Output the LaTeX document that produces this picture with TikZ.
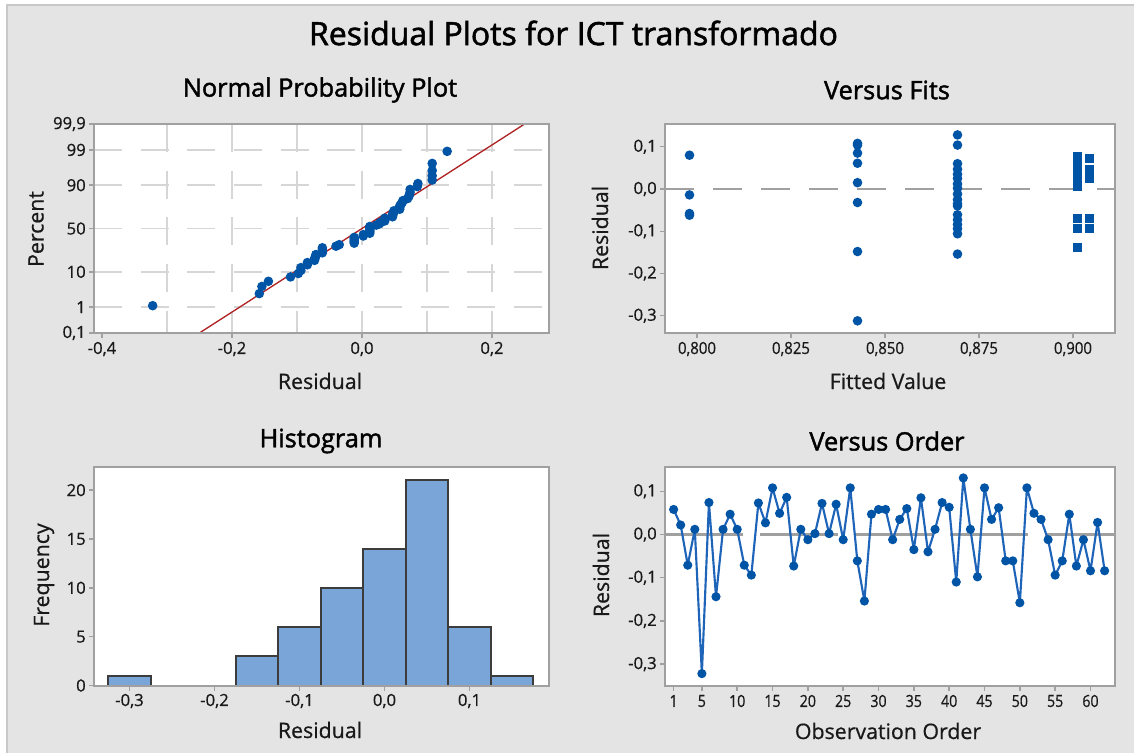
\documentclass[tikz,border=0pt]{standalone}
\usepackage{fontspec}
\setmainfont{Open Sans}[FakeBold=0.7]
\newfontfamily\headfont{Open Sans}[FakeBold=1.7]
\definecolor{bg}{RGB}{228,228,228}
\definecolor{bgedge}{RGB}{200,200,200}
\definecolor{frame}{RGB}{160,160,160}
\definecolor{gridc}{RGB}{214,214,214}
\definecolor{ptblue}{RGB}{0,84,166}
\definecolor{lineblue}{RGB}{30,100,185}
\definecolor{fitred}{RGB}{175,35,35}
\definecolor{barfill}{RGB}{122,165,216}
\definecolor{baredge}{RGB}{60,60,60}
\definecolor{txt}{RGB}{25,25,25}
\definecolor{refgray}{RGB}{160,160,160}
\tikzset{
  plotbox/.style={fill=white},
  plotframe/.style={draw=frame, line width=1.5pt},
  tickmark/.style={draw=frame, line width=1.1pt},
  ticklab/.style={font=\fontsize{12.5}{14}\selectfont, text=txt, inner sep=0pt},
  axlab/.style={font=\fontsize{16}{19}\selectfont, text=txt, inner sep=0pt},
  paneltitle/.style={font=\headfont\fontsize{19}{22}\selectfont, text=black, inner sep=0pt},
  maintitle/.style={font=\headfont\fontsize{24}{28}\selectfont, text=black, inner sep=0pt},
  gridline/.style={draw=gridc, line width=1.1pt, dash pattern=on 21pt off 14pt},
  zerodash/.style={draw=refgray, line width=1.6pt, dash pattern=on 21.75pt off 14.25pt},
  zerolong/.style={draw=refgray, line width=1.6pt, dash pattern=on 58.5pt off 12.75pt},
  fitline/.style={draw=fitred, line width=1pt},
  bar/.style={fill=barfill, draw=baredge, line width=1.5pt},
  orderline/.style={draw=lineblue, line width=1.6pt, line join=round},
  dot/.style={fill=ptblue},
}
\begin{document}
\begin{tikzpicture}[x=0.75pt, y=-0.75pt]
\useasboundingbox (0,0) rectangle (1134,753);
% page background
\fill[white] (0,0) rectangle (1134,753);
\fill[bg] (7,5) rectangle (1134,753);
\draw[bgedge, line width=1pt] (7,753) -- (7,5) -- (1134,5);

\node[maintitle] (title) at (573.5,33) {Residual Plots for ICT transformado};

% ---------------- Normal probability plot ----------------
\fill[plotbox] (94,124) rectangle (549,333);
\foreach \r in {-0.3,-0.2,-0.1,0,0.1,0.2}
  \draw[gridline] ({362+650*\r},124) -- ({362+650*\r},333);
\foreach \pz in {2.326,1.2816,0,-1.2816,-2.326}
  \draw[gridline] (94,{228.5-33.8*\pz}) -- (549,{228.5-33.8*\pz});
\coordinate (fitlo) at ({362+650*(-0.25)},{228.5+33.8*3.09});
\coordinate (fithi) at ({362+650*0.25},{228.5-33.8*3.09});
\draw[fitline] (fitlo) -- (fithi);
\foreach \r [count=\i] in {-0.322,-0.158,-0.154,-0.144,-0.110,-0.098,-0.094,-0.094,
  -0.084,-0.084,-0.073,-0.073,-0.071,-0.071,-0.061,-0.061,-0.061,-0.061,-0.040,-0.035,
  -0.012,-0.012,-0.012,-0.012,-0.012,0.002,0.002,0.012,0.012,0.012,0.012,0.012,0.012,
  0.022,0.027,0.028,0.035,0.035,0.035,0.047,0.047,0.047,0.049,0.049,0.058,0.058,0.058,
  0.060,0.062,0.063,0.070,0.072,0.073,0.074,0.074,0.085,0.086,0.108,0.108,0.108,0.108,0.131}{
  \pgfmathsetmacro\p{(\i-0.3)/62.4}
  \pgfmathsetmacro\z{4.91*(pow(\p,0.14)-pow(1-\p,0.14))}
  \fill[dot] ({362+650*\r},{228.5-33.8*\z}) circle (4.8);
}
\draw[plotframe] (94,124) rectangle (549,333);
\foreach \pz/\lab in {3.09/{99,9},2.326/99,1.2816/90,0/50,-1.2816/10,-2.326/1,-3.09/{0,1}}{
  \draw[tickmark] (89,{228.5-33.8*\pz}) -- (94,{228.5-33.8*\pz});
  \node[ticklab, anchor=east] at (86,{228.5-33.8*\pz}) {\lab};
}
\foreach \r/\lab in {-0.4/{-0,4},-0.2/{-0,2},0/{0,0},0.2/{0,2}}{
  \draw[tickmark] ({362+650*\r},333) -- ({362+650*\r},338);
  \node[ticklab] at ({362+650*\r},349) {\lab};
}
\node[paneltitle] (t1) at (320,90) {Normal Probability Plot};
\node[axlab] (x1) at (320,381) {Residual};
\node[axlab, rotate=90] (y1) at (36,229) {Percent};

% ---------------- Versus fits ----------------
\fill[plotbox] (665,124) rectangle (1115,333);
\draw[zerodash] (665,189) -- (1115,189);
\foreach \r in {0.080,-0.014,-0.058,-0.062}
  \fill[dot] (689.5,{189-422.5*\r}) circle (4.8);
\foreach \r in {0.108,0.104,0.085,0.061,0.015,-0.032,-0.148,-0.312}
  \fill[dot] (857.5,{189-422.5*\r}) circle (4.8);
\foreach \r in {0.128,0.104,0.060,0.047,0.035,0.025,0.012,0.002,-0.012,-0.025,-0.035,
  -0.040,-0.061,-0.073,-0.084,-0.094,-0.106,-0.154}
  \fill[dot] (957.5,{189-422.5*\r}) circle (4.8);
\foreach \r in {0.076,0.059,0.037,0.020,0.006,-0.069,-0.093,-0.139}
  \fill[dot] (1072.5,{184.5-422.5*\r}) rectangle (1081.5,{193.5-422.5*\r});
\foreach \r in {0.072,0.047,0.025,-0.069,-0.093}
  \fill[dot] (1085,{184.5-422.5*\r}) rectangle (1094,{193.5-422.5*\r});
\draw[plotframe] (665,124) rectangle (1115,333);
\foreach \r/\lab in {0.1/{0,1},0/{0,0},-0.1/{-0,1},-0.2/{-0,2},-0.3/{-0,3}}{
  \draw[tickmark] (660,{189-422.5*\r}) -- (665,{189-422.5*\r});
  \node[ticklab, anchor=east] at (657,{189-422.5*\r}) {\lab};
}
\foreach \f/\lab in {0.800/{0,800},0.825/{0,825},0.850/{0,850},0.875/{0,875},0.900/{0,900}}{
  \draw[tickmark] ({697+3760*(\f-0.8)},333) -- ({697+3760*(\f-0.8)},338);
  \node[ticklab] at ({697+3760*(\f-0.8)},349) {\scalebox{0.9}[1]{\lab}};
}
\node[paneltitle] (t2) at (887,90) {Versus Fits};
\node[axlab] (x2) at (888,381) {Fitted Value};
\node[axlab, rotate=90] (y2) at (600,228) {Residual};

% ---------------- Histogram ----------------
\fill[plotbox] (94,467) rectangle (549,686);
\foreach \n [count=\i] in {1,0,0,3,6,10,14,21,6,1}
  \draw[bar] ({108.25+42.5*(\i-1)},685.5) rectangle ({150.75+42.5*(\i-1)},{685.5-9.77*\n});
\draw[plotframe] (94,467) rectangle (549,686);
\foreach \v in {0,5,10,15,20}{
  \draw[tickmark] (89,{685.5-9.77*\v}) -- (94,{685.5-9.77*\v});
  \node[ticklab, anchor=east] at (86,{685.5-9.77*\v}) {\v};
}
\foreach \r/\lab in {-0.3/{-0,3},-0.2/{-0,2},-0.1/{-0,1},0/{0,0},0.1/{0,1}}{
  \draw[tickmark] ({384.5+850*\r},686) -- ({384.5+850*\r},691);
  \node[ticklab] at ({384.5+850*\r},701) {\lab};
}
\node[paneltitle] (t3) at (321,441) {Histogram};
\node[axlab] (x3) at (320,730) {Residual};
\node[axlab, rotate=90] (y3) at (44,575) {Frequency};

% ---------------- Versus order ----------------
\fill[plotbox] (665,467) rectangle (1115,686);
\draw[zerolong] (665,534.5) -- (1115,534.5);
\foreach \r [count=\k] in {0.058,0.022,-0.071,0.012,-0.322,0.074,-0.144,0.012,0.047,0.012,
  -0.071,-0.094,0.073,0.027,0.108,0.049,0.086,-0.073,0.012,-0.012,
  0.002,0.072,0.002,0.070,-0.012,0.108,-0.061,-0.154,0.047,0.058,
  0.058,-0.012,0.035,0.060,-0.035,0.085,-0.040,0.012,0.074,0.063,
  -0.110,0.131,0.012,-0.098,0.108,0.035,0.062,-0.061,-0.061,-0.158,
  0.108,0.049,0.035,-0.012,-0.094,-0.061,0.047,-0.073,-0.012,-0.084,
  0.028,-0.084}
  \coordinate (o\k) at ({673.6+7.066*(\k-1)},{534.5-432*\r});
\draw[orderline] (o1) \foreach \k in {2,...,62}{ -- (o\k)};
\foreach \k in {1,...,62}
  \fill[dot] (o\k) circle (4.6);
\draw[plotframe] (665,467) rectangle (1115,686);
\foreach \r/\lab in {0.1/{0,1},0/{0,0},-0.1/{-0,1},-0.2/{-0,2},-0.3/{-0,3}}{
  \draw[tickmark] (660,{534.5-432*\r}) -- (665,{534.5-432*\r});
  \node[ticklab, anchor=east] at (657,{534.5-432*\r}) {\lab};
}
\foreach \k in {1,5,10,15,20,25,30,35,40,45,50,55,60}{
  \draw[tickmark] ({673.6+7.066*(\k-1)},686) -- ({673.6+7.066*(\k-1)},691);
  \node[ticklab] at ({673.6+7.066*(\k-1)},701) {\scalebox{0.85}[1]{\k}};
}
\node[paneltitle] (t4) at (887,441) {Versus Order};
\node[axlab] (x4) at (888,731) {Observation Order};
\node[axlab, rotate=90] (y4) at (601,575) {Residual};
\end{tikzpicture}
\end{document}
